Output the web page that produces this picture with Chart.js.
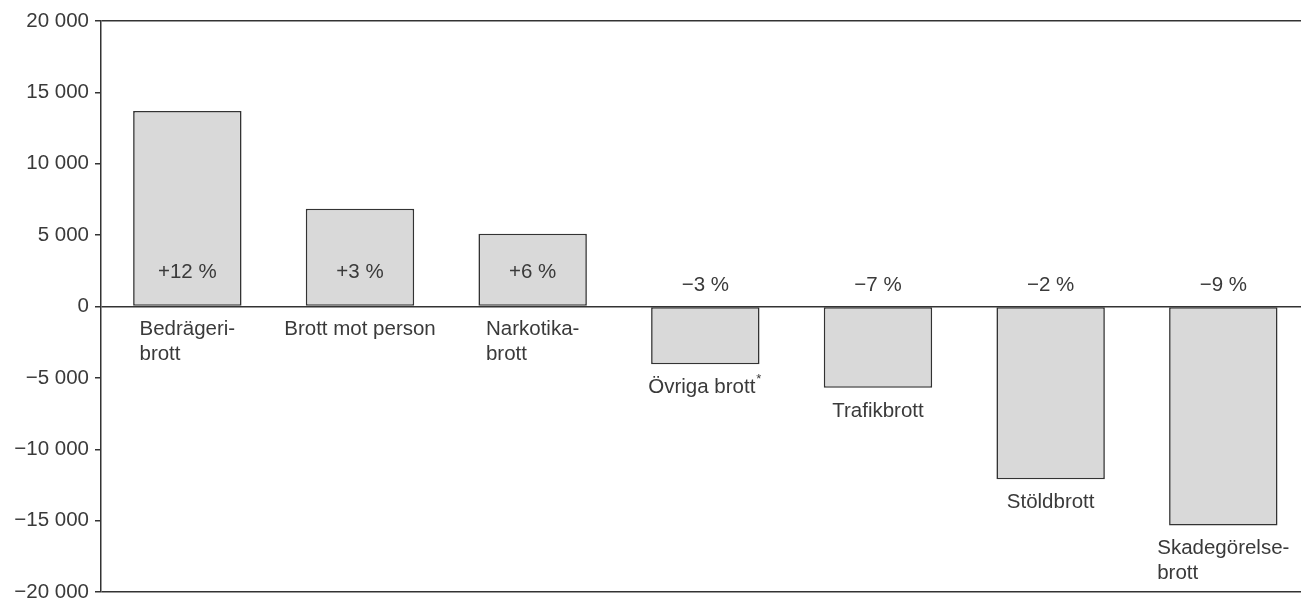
<!DOCTYPE html>
<html>
<head>
<meta charset="utf-8">
<script src="https://cdn.jsdelivr.net/npm/chart.js@4/dist/chart.umd.min.js"></script>
<style>
  html, body { margin: 0; padding: 0; background: #fff; overflow: hidden; }
  #wrap { width: 1301px; height: 600px; position: relative; }
</style>
</head>
<body>
<div id="wrap"><canvas id="c" width="1301" height="600"></canvas></div>
<script>
// ---- data ----
const categories = [
  ['Bedrägeri-', 'brott'],
  ['Brott mot person'],
  ['Narkotika-', 'brott'],
  ['Övriga brott*'],
  ['Trafikbrott'],
  ['Stöldbrott'],
  ['Skadegörelse-', 'brott']
];
const changeValues = [13700, 6850, 5100, -4050, -5700, -12100, -15350];
const percentLabels = ['+12 %', '+3 %', '+6 %', '\u22123 %', '\u22127 %', '\u22122 %', '\u22129 %'];
const yTicks = [20000, 15000, 10000, 5000, 0, -5000, -10000, -15000, -20000];

const TEXT = '#3a3a3a';
const LINE = '#333333';
const FONT = '"Liberation Sans", Arial, Helvetica, sans-serif';
const FS = 20.5;

function fmt(v) {
  const a = Math.abs(v).toString().replace(/\B(?=(\d{3})+(?!\d))/g, ' ');
  return (v < 0 ? '\u2212' : '') + a;
}

const labelPlugin = {
  id: 'barLabels',
  afterDatasetsDraw(chart) {
    const ctx = chart.ctx;
    const meta = chart.getDatasetMeta(0);
    const yScale = chart.scales.y;
    const zero = yScale.getPixelForValue(0);
    ctx.save();
    ctx.fillStyle = TEXT;
    ctx.font = FS + 'px ' + FONT;
    meta.data.forEach((bar, i) => {
      const v = changeValues[i];
      const cx = bar.x;
      ctx.textAlign = 'center';
      ctx.textBaseline = 'middle';
      const py = v > 0 ? zero - 34 : zero - 21;
      ctx.fillText(percentLabels[i], cx, py);
      const lines = categories[i];
      const widths = lines.map(l => ctx.measureText(l.replace(/\*$/, '')).width + (l.endsWith('*') ? 7 : 0));
      const bw = Math.max(...widths);
      const left = cx - bw / 2;
      const bottom = Math.max(bar.y, bar.base, zero);
      ctx.textAlign = 'left';
      lines.forEach((l, k) => {
        const y = bottom + 23 + k * 25;
        if (l.endsWith('*')) {
          const t = l.slice(0, -1);
          ctx.fillText(t, left, y);
          const w = ctx.measureText(t).width;
          ctx.font = '13px ' + FONT;
          ctx.fillText('*', left + w + 1, y - 8);
          ctx.font = FS + 'px ' + FONT;
        } else {
          ctx.fillText(l, left, y);
        }
      });
    });
    ctx.restore();
  }
};

new Chart(document.getElementById('c'), {
  type: 'bar',
  data: {
    datasets: [{
      data: changeValues.map((v, i) => ({ x: i, y: v })),
      backgroundColor: '#d9d9d9',
      borderColor: LINE,
      borderWidth: 1.6,
      borderSkipped: false,
      barPercentage: 0.628,
      categoryPercentage: 1
    }]
  },
  options: {
    responsive: false,
    animation: false,
    devicePixelRatio: 1,
    layout: { padding: { top: 21, bottom: 8, right: 0, left: 0 } },
    plugins: { legend: { display: false }, tooltip: { enabled: false } },
    scales: {
      x: {
        type: 'linear',
        min: -0.5,
        max: 6.45,
        offset: false,
        display: false,
        afterBuildTicks(scale) { scale.ticks = categories.map((c, i) => ({ value: i })); }
      },
      y: {
        min: -20000,
        max: 20000,
        afterBuildTicks(scale) { scale.ticks = yTicks.map(v => ({ value: v })); },
        afterFit(scale) { scale.width = 101; scale.paddingTop = 0; scale.paddingBottom = 0; },
        border: { display: true, color: LINE, width: 1.5 },
        grid: {
          color: ctx => (ctx.tick && (ctx.tick.value === 20000 || ctx.tick.value === 0 || ctx.tick.value === -20000)) ? LINE : 'rgba(0,0,0,0)',
          tickColor: LINE,
          lineWidth: 1.5,
          tickLength: 6,
          drawTicks: true
        },
        ticks: {
          color: TEXT,
          font: { family: FONT, size: FS },
          padding: 6,
          callback: v => fmt(v)
        }
      }
    }
  },
  plugins: [labelPlugin]
});
</script>
</body>
</html>
